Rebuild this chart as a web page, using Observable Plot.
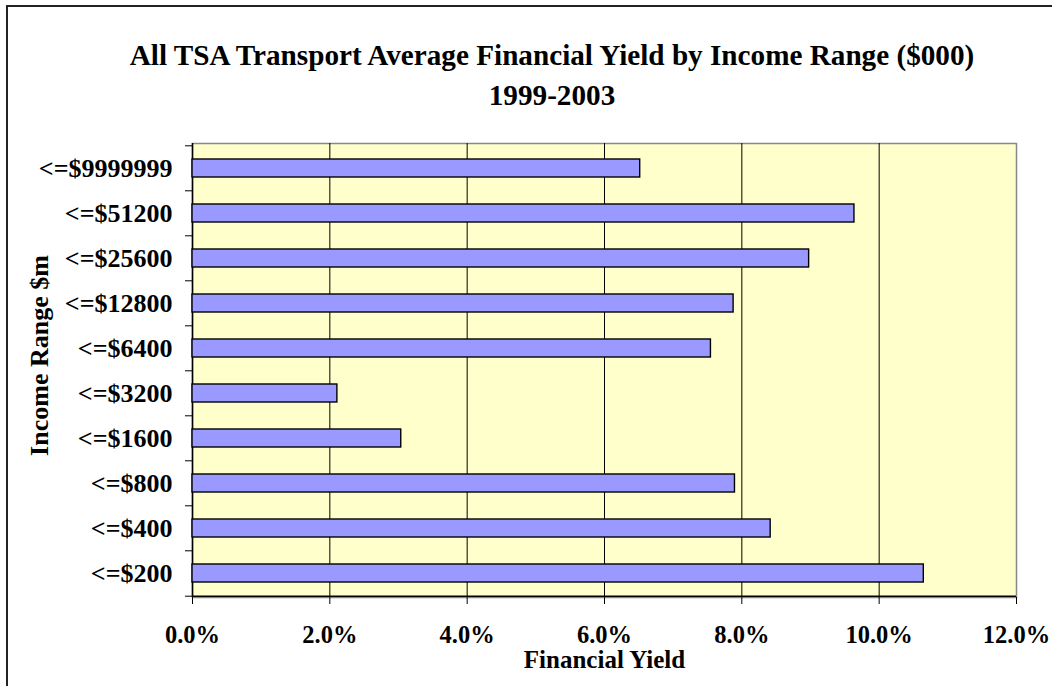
<!DOCTYPE html>
<html>
<head>
<meta charset="utf-8">
<script src="https://cdn.jsdelivr.net/npm/d3@7"></script>
<script src="https://cdn.jsdelivr.net/npm/@observablehq/plot@0.6"></script>
<style>
  html, body { margin: 0; padding: 0; background: #fff; }
  #wrap { position: relative; width: 1052px; height: 686px; overflow: hidden; }
  #border { position: absolute; left: 6px; top: 5px; width: 1200px; height: 800px; border-top: 2px solid #222; border-left: 2px solid #222; box-sizing: border-box; }
  #title { position: absolute; left: 0; top: 35px; width: 1104px; text-align: center; font-family: "Liberation Serif", "Times New Roman", serif; font-weight: bold; font-size: 29.2px; line-height: 40px; color: #000; }
  #chart { position: absolute; left: 0; top: 0; }
</style>
</head>
<body>
<div id="wrap">
  <div id="border"></div>
  <div id="chart"></div>
  <div id="title">All TSA Transport Average Financial Yield by Income Range ($000)<br>1999-2003</div>
</div>
<script>
// Categories, top to bottom as drawn
const categories = ["<=$9999999", "<=$51200", "<=$25600", "<=$12800", "<=$6400", "<=$3200", "<=$1600", "<=$800", "<=$400", "<=$200"];
// Average financial yield (fraction)
const yields = [0.0652, 0.0964, 0.0898, 0.0788, 0.0755, 0.0211, 0.0304, 0.0790, 0.0842, 0.1065];
const xTicks = [0, 0.02, 0.04, 0.06, 0.08, 0.10, 0.12];
const gridTicks = [0.02, 0.04, 0.06, 0.08, 0.10];
const xTitle = "Financial Yield";
const yTitle = "Income Range $m";

const data = categories.map((c, i) => ({cat: c, value: yields[i]}));

const W = 1052, H = 686, mL = 192, mR = 36, mT = 143, mB = 89;
const step = (H - mT - mB) / categories.length;

const chart = Plot.plot({
  width: W,
  height: H,
  marginLeft: mL,
  marginRight: mR,
  marginTop: mT,
  marginBottom: mB,
  style: {fontFamily: "'Liberation Serif', 'Times New Roman', serif", fontWeight: "bold", fontSize: "24px", color: "#000", background: "transparent"},
  x: {domain: [0, 0.12], ticks: xTicks, label: null},
  y: {domain: categories, paddingInner: 0.6, paddingOuter: 0.3, label: null},
  marks: [
    Plot.frame({fill: "#FFFFCC", stroke: "#888", strokeWidth: 1.5}),
    Plot.gridX(gridTicks, {stroke: "#000", strokeOpacity: 1, strokeWidth: 1}),
    Plot.ruleX([0], {stroke: "#000", strokeWidth: 1.5}),
    Plot.ruleY([categories[categories.length - 1]], {y: d => d, dy: step / 2, stroke: "#000", strokeWidth: 1.5}),
    Plot.barX(data, {x: "value", y: "cat", fill: "#9999FF", stroke: "#000", strokeWidth: 1.4}),
    Plot.axisX({ticks: xTicks, tickFormat: d3.format(".1%"), tickSize: 7, tickPadding: 21, label: null, stroke: "#000", fontSize: 24.5, fontWeight: "bold"}),
    Plot.axisY({tickSize: 0, tickPadding: 20, label: null, fontSize: 26, fontWeight: "bold"}),
    Plot.axisY(categories, {text: null, label: null, tickSize: 7, dy: -step / 2, stroke: "#000"}),
    Plot.axisY([categories[categories.length - 1]], {text: null, label: null, tickSize: 7, dy: step / 2, stroke: "#000"}),
    Plot.text([xTitle], {frameAnchor: "bottom", dy: 70, fontSize: 25, fontWeight: "bold"}),
    Plot.text([yTitle], {frameAnchor: "left", textAnchor: "middle", dx: -153, dy: -15, rotate: -90, fontSize: 26, fontWeight: "bold"})
  ]
});
document.getElementById("chart").appendChild(chart);
</script>
</body>
</html>
